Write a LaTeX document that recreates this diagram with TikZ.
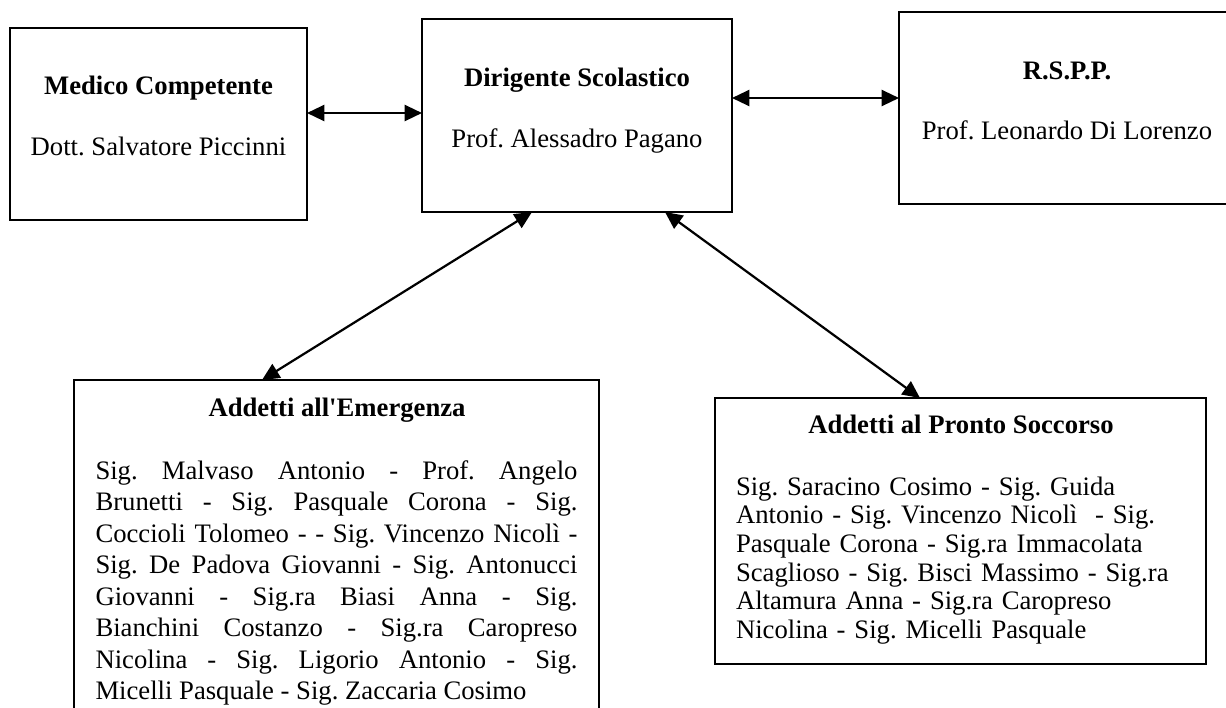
\documentclass[tikz,border=0pt]{standalone}
\usepackage{fontspec}
\setmainfont{Liberation Serif}
\usetikzlibrary{arrows.meta}
\newlength\unitpx
\setlength\unitpx{0.45pt}
\frenchspacing

\begin{document}
\begin{tikzpicture}[x=\unitpx, y=-\unitpx,
    every node/.style={font=\fontsize{12}{13.8}\selectfont, inner sep=0pt, outer sep=0pt},
    orgbox/.style={draw, line width=0.9pt, rectangle},
    boxtitle/.style={anchor=base, font=\fontsize{12}{13.8}\selectfont\bfseries},
    person/.style={anchor=base},
    conn/.style={line width=1pt,
      {Triangle[length=7.8pt,width=7.2pt]}-{Triangle[length=7.8pt,width=7.2pt]}}]
  \useasboundingbox (0,0) rectangle (1226,708);

  % Draw the three boxes on top
  \node[orgbox, minimum width=297\unitpx, minimum height=192\unitpx] (medico) at (158.5,124) {};
  \node[orgbox, minimum width=310\unitpx, minimum height=193\unitpx] (dirigente) at (577,115.5) {};
  \node[orgbox, minimum width=336\unitpx, minimum height=192\unitpx] (rspp) at (1067,108) {};

  \node[boxtitle] (medicoT) at (158.5,94) {Medico Competente};
  \node[person] (medicoP) at (158.5,155) {Dott. Salvatore Piccinni};
  \node[boxtitle] (dirigenteT) at (577,86) {Dirigente Scolastico};
  \node[person] (dirigenteP) at (577,147) {Prof. Alessadro Pagano};
  \node[boxtitle] (rsppT) at (1067,79) {R.S.P.P.};
  \node[person] (rsppP) at (1067,139) {Prof. Leonardo Di Lorenzo};

  % Draw the two boxes below
  \node[orgbox, minimum width=525\unitpx, minimum height=345\unitpx] (emerg) at (336.5,552.5) {};
  \node[orgbox, minimum width=491\unitpx, minimum height=266\unitpx] (pronto) at (960.5,531) {};

  \node[boxtitle] (emergT) at (337,416) {Addetti all\textquotesingle Emergenza};
  \node[anchor=base west, text width=216.9pt, align=justify,
    font=\fontsize{12}{14.2}\selectfont] (emergL) at (95.5,479)
    {Sig. Malvaso Antonio - Prof. Angelo\linebreak
     Brunetti - Sig. Pasquale Corona - Sig.\linebreak
     Coccioli Tolomeo - - Sig. Vincenzo Nicolì -\linebreak
     Sig. De Padova Giovanni - Sig. Antonucci\linebreak
     Giovanni - Sig.ra Biasi Anna - Sig.\linebreak
     Bianchini Costanzo - Sig.ra Caropreso\linebreak
     Nicolina - Sig. Ligorio Antonio - Sig.\linebreak
     Micelli Pasquale - Sig. Zaccaria Cosimo};

  \node[boxtitle] (prontoT) at (961,433) {Addetti al Pronto Soccorso};
  \node[anchor=base west, text width=205pt, align=left,
    font=\fontsize{12}{12.9}\selectfont] (prontoL) at (736,495)
    {Sig. Saracino Cosimo - Sig. Guida\\
     Antonio - Sig. Vincenzo Nicolì \ - Sig.\\
     Pasquale Corona - Sig.ra Immacolata\\
     Scaglioso - Sig. Bisci Massimo - Sig.ra\\
     Altamura Anna - Sig.ra Caropreso\\
     Nicolina - Sig. Micelli Pasquale};

  % Draw the arrows between the boxes
  \draw[conn] (medico.east |- 0,113) -- (dirigente.west |- 0,113);
  \draw[conn] (dirigente.east |- 0,98) -- (rspp.west |- 0,98);
  \draw[conn] (dirigente.south -| 532,0) -- (emerg.north -| 262,0);
  \draw[conn] (dirigente.south -| 665,0) -- (pronto.north -| 920,0);
\end{tikzpicture}
\end{document}
